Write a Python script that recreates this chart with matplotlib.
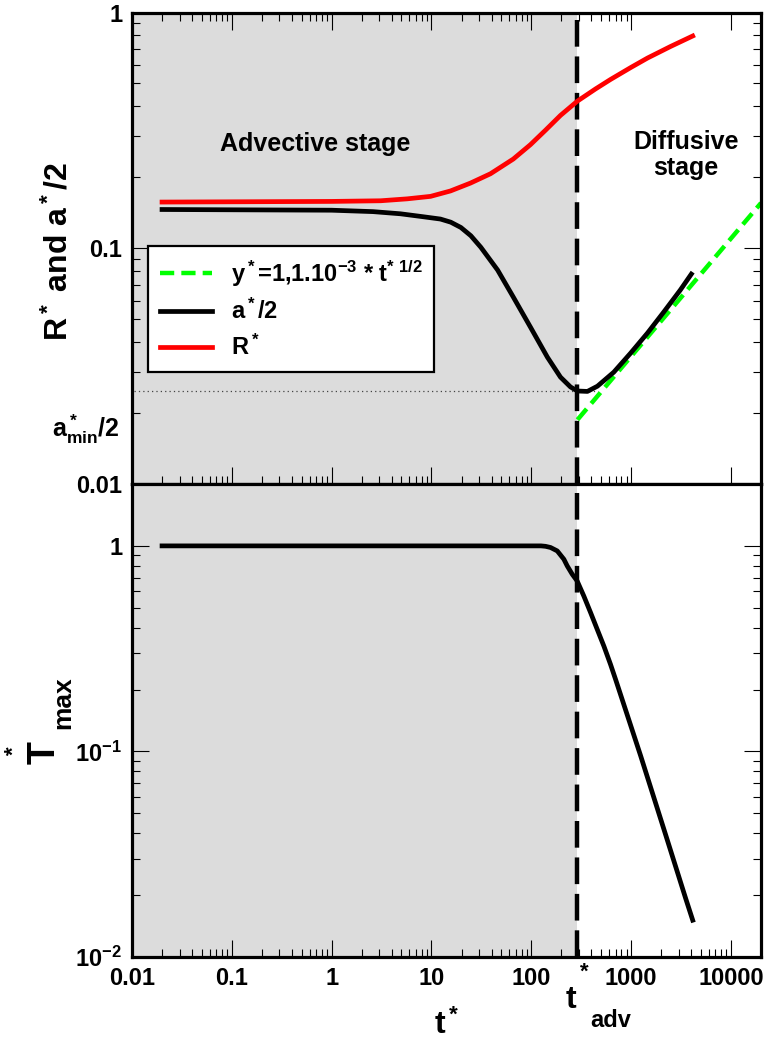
import matplotlib
matplotlib.use("Agg")
import matplotlib.pyplot as plt
from matplotlib.ticker import FixedLocator, NullFormatter, FixedFormatter

plt.rcParams['font.family'] = ['Liberation Sans', 'DejaVu Sans']
plt.rcParams['font.weight'] = 'bold'
plt.rcParams['mathtext.fontset'] = 'custom'
plt.rcParams['mathtext.rm'] = 'Liberation Sans:bold'
plt.rcParams['mathtext.it'] = 'Liberation Sans:bold'
plt.rcParams['mathtext.bf'] = 'Liberation Sans:bold'
plt.rcParams['mathtext.sf'] = 'Liberation Sans:bold'
plt.rcParams['mathtext.default'] = 'rm'

# ---------------- data ----------------
t_adv = 290.0
a_min_half = 0.0247

t_R = [0.02, 1, 3.1, 5.7, 9.8, 15.5, 24.6, 39, 66, 98, 139, 196, 290, 440, 622, 990, 1460,
       2490, 4140]
R_star = [0.157, 0.158, 0.159, 0.162, 0.166, 0.175, 0.189, 0.207, 0.239, 0.275, 0.317, 0.366,
          0.421, 0.474, 0.520, 0.584, 0.641, 0.718, 0.795]

t_a = [0.02, 1, 2.6, 4.9, 8.3, 12.3, 15.6, 19.7, 24.8, 31.2, 46, 66, 98, 145, 196, 247, 290,
       365, 460, 670, 988, 1460, 2120, 3110, 4010]
a_half = [0.146, 0.145, 0.143, 0.140, 0.136, 0.133, 0.129, 0.1225, 0.113, 0.101, 0.0808,
          0.0621, 0.0463, 0.0345, 0.0284, 0.0258, 0.0248, 0.0247, 0.0260, 0.0298, 0.0359,
          0.0437, 0.0536, 0.0665, 0.0777]

t_fit = [290, 20000]
y_fit = [0.01873, 0.1556]

t_T = [0.02, 1, 10, 100, 125, 139, 156, 182, 212, 229, 257, 288, 336, 393, 458, 534, 622,
       699, 1245, 2218, 3516, 4140]
T_max = [1.0, 1.0, 1.0, 1.0, 1.0, 0.995, 0.982, 0.945, 0.861, 0.799, 0.728, 0.675, 0.570,
         0.473, 0.392, 0.325, 0.265, 0.224, 0.0953, 0.0393, 0.0193, 0.0151]

x_major = [0.01, 0.1, 1, 10, 100, 1000, 10000]
x_labels = ['0.01', '0.1', '1', '10', '100', '1000', '10000']

# ---------------- figure ----------------
W, H = 771, 1040
fig = plt.figure(figsize=(W / 100, H / 100), dpi=100)
L, R = 132, 761
ax1 = fig.add_axes([L / W, 1 - 484 / H, (R - L) / W, (484 - 12.5) / H])
ax2 = fig.add_axes([L / W, 1 - 957 / H, (R - L) / W, (957 - 484) / H])

shade = '#dcdcdc'
for ax in (ax1, ax2):
    ax.set_xscale('log')
    ax.set_yscale('log')
    ax.set_xlim(0.01, 20000)
    ax.axvspan(0.01, t_adv, color=shade, zorder=0, lw=0)
    ax.axvline(t_adv, color='black', lw=3.2, ls=(0, (6, 2.2)), zorder=4)
    for s in ax.spines.values():
        s.set_linewidth(2.3)
        s.set_zorder(6)

ax1.set_ylim(0.01, 1)
ax2.set_ylim(0.01, 2)

# top panel curves
ax1.plot([0.0105, 470], [a_min_half, a_min_half], ls=(0, (1, 2.5)), lw=0.9, color='#444444', zorder=2)
ax1.plot(t_fit, y_fit, color='#00ff00', lw=3.2, ls=(0, (3.2, 1.6)), zorder=3,
         label='y$^*$=1,1.10$^{-3}$ * t$^{*\\ 1/2}$')
ax1.plot(t_a, a_half, color='black', lw=3.4, zorder=5, label='a$^*$/2')
ax1.plot(t_R, R_star, color='#ff0000', lw=3.4, zorder=5, label='R$^*$')

# bottom panel
ax2.plot(t_T, T_max, color='black', lw=3.4, zorder=5)

# ticks
dec = [0.01, 0.1, 1, 10, 100, 1000]
minor_all = [m * d for d in dec for m in range(2, 10)]
minor_top = [m * d for d in dec[:-1] for m in range(2, 10)]

for ax, minors in ((ax1, minor_top), (ax2, minor_all)):
    ax.xaxis.set_major_locator(FixedLocator(x_major))
    ax.xaxis.set_minor_locator(FixedLocator(minors))
    ax.xaxis.set_minor_formatter(NullFormatter())
    ax.tick_params(which='major', direction='in', length=12, width=0.8, labelsize=17, pad=7)
    ax.tick_params(which='minor', direction='in', length=5.5, width=0.8)

ax1.tick_params(axis='x', which='both', top=True, bottom=True, labelbottom=False)
ax1.tick_params(axis='y', which='both', left=True, right=True)
ax2.tick_params(axis='x', which='both', top=False, bottom=True)
ax2.tick_params(axis='y', which='both', left=True, right=True)

ax2.xaxis.set_major_formatter(FixedFormatter(x_labels))

ydec = [0.01, 0.1]
yminor = [m * d for d in ydec for m in range(2, 10)]
ax1.yaxis.set_major_locator(FixedLocator([0.01, 0.1, 1]))
ax1.yaxis.set_major_formatter(FixedFormatter(['0.01', '0.1', '1']))
ax1.yaxis.set_minor_locator(FixedLocator(yminor))
ax1.yaxis.set_minor_formatter(NullFormatter())
ax2.yaxis.set_major_locator(FixedLocator([0.01, 0.1, 1]))
ax2.yaxis.set_major_formatter(FixedFormatter(['$10^{-2}$', '$10^{-1}$', '1']))
ax2.yaxis.set_minor_locator(FixedLocator(yminor + [2]))
ax2.yaxis.set_minor_formatter(NullFormatter())
for lab in ax1.get_yticklabels() + ax2.get_yticklabels() + ax2.get_xticklabels():
    lab.set_fontweight('bold')

# axis labels (placed in figure pixels)
def fx(px):
    return px / W

def fy(py):
    return 1 - py / H

fig.text(fx(68), fy(252), 'R$^*$ and a$^*$/2', fontsize=23, fontweight='bold', rotation=90,
         ha='center', va='baseline', rotation_mode='anchor')

# T*_max label built from pieces
fig.text(fx(55), fy(753), 'T', fontsize=27, fontweight='bold', rotation=90,
         ha='center', va='baseline', rotation_mode='anchor')
fig.text(fx(14), fy(751), '*', fontsize=16, fontweight='bold', rotation=90,
         ha='center', va='center', rotation_mode='anchor')
fig.text(fx(70), fy(703), 'max', fontsize=19, fontweight='bold', rotation=90,
         ha='center', va='baseline', rotation_mode='anchor')

fig.text(fx(447), fy(1034), 't$^*$', fontsize=23, fontweight='bold', ha='center', va='baseline')

# t*_adv label under the dashed line
fig.text(fx(566), fy(1008), 't', fontsize=23, fontweight='bold', ha='left', va='baseline')
fig.text(fx(584), fy(972), '*', fontsize=16, fontweight='bold', ha='center', va='center')
fig.text(fx(590), fy(1027), 'adv', fontsize=17, fontweight='bold', ha='left', va='baseline')

fig.text(fx(52), fy(437), 'a$^*_{min}$/2', fontsize=18, fontweight='bold', ha='left', va='baseline')

fig.text(fx(315), fy(144), 'Advective stage', fontsize=18, fontweight='bold', ha='center', va='center')
fig.text(fx(686), fy(155), 'Diffusive\nstage', fontsize=18, fontweight='bold', ha='center',
         va='center', linespacing=1.1)

leg = ax1.legend(loc='upper left', bbox_to_anchor=((148 - L) / (R - L), (484 - 246) / (484 - 12.5)),
                 borderaxespad=0, frameon=True, fancybox=False, framealpha=1,
                 handlelength=2.2, handletextpad=0.8, borderpad=0.5, labelspacing=0.45,
                 prop={'weight': 'bold', 'size': 17})
leg.get_frame().set_edgecolor('black')
leg.get_frame().set_linewidth(1.6)
leg.set_zorder(7)

fig.savefig('out.png', dpi=100)
